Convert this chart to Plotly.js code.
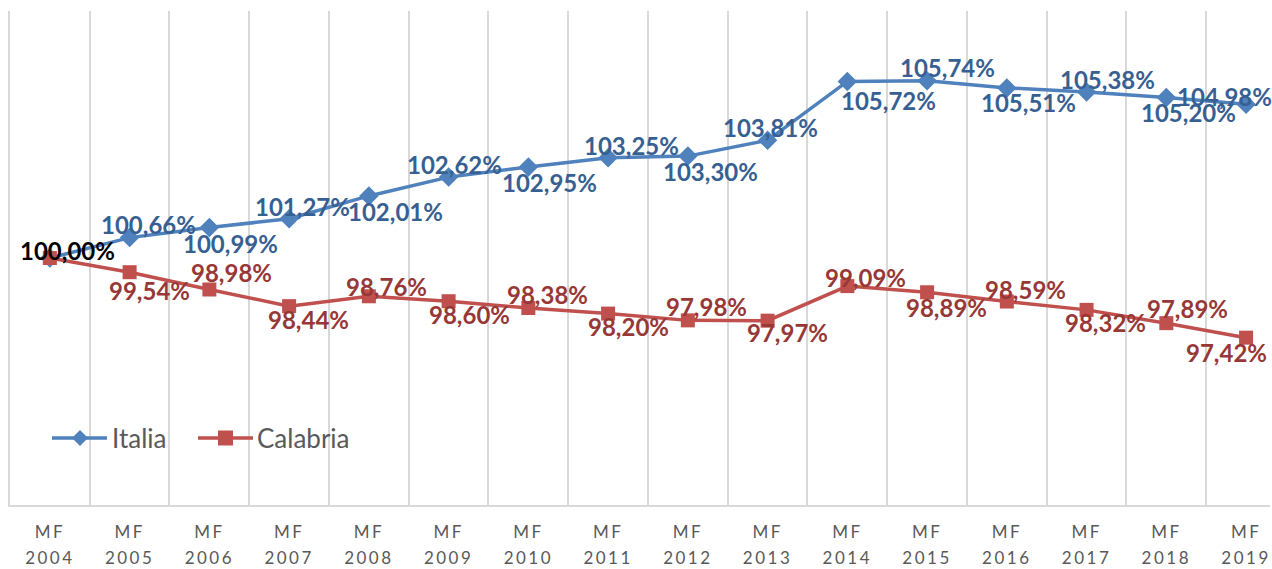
<!DOCTYPE html>
<html>
<head>
<meta charset="utf-8">
<script src="https://cdn.plot.ly/plotly-3.0.1.min.js"></script>
<style>
html,body{margin:0;padding:0;background:#fff;}
#chart{width:1272px;height:569px;}
.xtick text{letter-spacing:2.5px;}
</style>
</head>
<body>
<div id="chart"></div>
<script>
var years = ["2004","2005","2006","2007","2008","2009","2010","2011","2012","2013","2014","2015","2016","2017","2018","2019"];
var italia = [100.00,100.66,100.99,101.27,102.01,102.62,102.95,103.25,103.30,103.81,105.72,105.74,105.51,105.38,105.20,104.98];
var calabria = [100.00,99.54,98.98,98.44,98.76,98.60,98.38,98.20,97.98,97.97,99.09,98.89,98.59,98.32,97.89,97.42];
var seriesNames = ["Italia", "Calabria"];

// label offsets in pixels [dx, dy(up)]
var italiaOff = [null,[19,13],[21,-16],[13,12],[27,-16],[6,13],[21,-16],[23,12],[23,-15],[3,13],[41,-19],[20,13],[22,-15],[21,12],[22,-15],[-22,8]];
var calabriaOff = [[18,8],[20,-18],[22,17],[19,-13],[18,10],[21,-13],[19,14],[20,-13],[19,14],[20,-12],[18,9],[19,-15],[19,12],[19,-13],[21,15],[-20,-15]];

var cats = years.map(function(y){return "MF<br>" + y;});
function fmt(v){return v.toFixed(2).replace('.', ',') + '%';}

var blue = '#4f81bd', red = '#c0504d';
var blueTxt = '#376092', redTxt = '#973836';
var FONT = 'Lato, "Open Sans", sans-serif';

var traces = [
  {x: cats, y: italia, name: seriesNames[0], type: 'scatter', mode: 'lines+markers',
   line: {color: blue, width: 3.5}, marker: {symbol: 'diamond', size: 15, color: blue}},
  {x: cats, y: calabria, name: seriesNames[1], type: 'scatter', mode: 'lines+markers',
   line: {color: red, width: 3.5}, marker: {symbol: 'square', size: 14, color: red}}
];

var annotations = [];
italia.forEach(function(v, i){
  if (!italiaOff[i]) return;
  annotations.push({x: cats[i], y: v, xref: 'x', yref: 'y', text: fmt(v), showarrow: false,
    xshift: italiaOff[i][0], yshift: italiaOff[i][1],
    font: {family: FONT, size: 24, color: blueTxt, weight: 'bold'}});
});
calabria.forEach(function(v, i){
  annotations.push({x: cats[i], y: v, xref: 'x', yref: 'y', text: fmt(v), showarrow: false,
    xshift: calabriaOff[i][0], yshift: calabriaOff[i][1],
    font: {family: FONT, size: 24, color: i === 0 ? '#000000' : redTxt, weight: 'bold'}});
});

// custom legend (line + symbol + text), plot-fraction anchors, pixel-sized symbols
function px2fx(p){return (p - 10) / 1260;}
function px2fy(p){return (505 - p) / 494;}
var legY = px2fy(438);
var shapes = [
  {type: 'line', xref: 'paper', yref: 'paper', xsizemode: 'pixel', xanchor: px2fx(52), x0: 0, x1: 55,
   y0: legY, y1: legY, line: {color: blue, width: 3.5}},
  {type: 'path', xref: 'paper', yref: 'paper', xsizemode: 'pixel', ysizemode: 'pixel',
   xanchor: px2fx(80), yanchor: legY, path: 'M -8 0 L 0 8 L 8 0 L 0 -8 Z',
   fillcolor: blue, line: {width: 0}},
  {type: 'line', xref: 'paper', yref: 'paper', xsizemode: 'pixel', xanchor: px2fx(198), x0: 0, x1: 55,
   y0: legY, y1: legY, line: {color: red, width: 3.5}},
  {type: 'path', xref: 'paper', yref: 'paper', xsizemode: 'pixel', ysizemode: 'pixel',
   xanchor: px2fx(225.5), yanchor: legY, path: 'M -7.5 -7.5 L 7.5 -7.5 L 7.5 7.5 L -7.5 7.5 Z',
   fillcolor: red, line: {width: 0}}
];
annotations.push({xref: 'paper', yref: 'paper', x: px2fx(110), y: legY, xanchor: 'left', yanchor: 'middle',
  text: seriesNames[0], showarrow: false, font: {family: FONT, size: 26, color: '#595959'}});
annotations.push({xref: 'paper', yref: 'paper', x: px2fx(255), y: legY, xanchor: 'left', yanchor: 'middle',
  text: seriesNames[1], showarrow: false, font: {family: FONT, size: 26, color: '#595959'}});

var layout = {
  width: 1272, height: 569,
  margin: {l: 10, r: 2, t: 11, b: 64},
  paper_bgcolor: '#ffffff', plot_bgcolor: '#ffffff',
  showlegend: false,
  xaxis: {type: 'category', categoryorder: 'array', categoryarray: cats,
    range: [-0.5, 15.3], tickson: 'boundaries', showgrid: true, gridcolor: '#d9d9d9', gridwidth: 2,
    showline: true, linecolor: '#d9d9d9', linewidth: 2, ticks: '', ticklabelstandoff: 11,
    tickfont: {family: FONT, size: 17, color: '#595959'}},
  yaxis: {range: [92, 108], showticklabels: false, showgrid: false, zeroline: false,
    showline: true, linecolor: '#d9d9d9', linewidth: 2, ticks: ''},
  shapes: shapes,
  annotations: annotations
};

Plotly.newPlot('chart', traces, layout, {displayModeBar: false, staticPlot: true}).then(function(gd){
  var lines = gd.querySelectorAll('.xtick text tspan.line');
  lines.forEach(function(t){
    var dy = t.getAttribute('dy');
    if (dy && dy !== '0em' && parseFloat(dy) > 0) t.setAttribute('dy', '1.48em');
  });
});
</script>
</body>
</html>
